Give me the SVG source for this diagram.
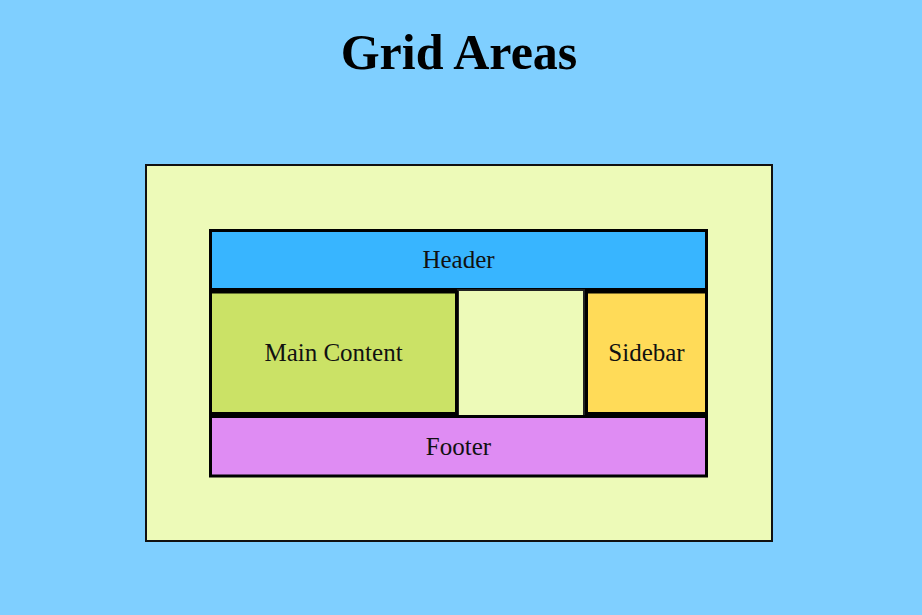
<svg xmlns="http://www.w3.org/2000/svg" width="922" height="615" viewBox="0 0 922 615">
  <style>
    .lbl { font-family: "Liberation Serif", "Times New Roman", serif; font-size: 25px; fill: #111; text-anchor: middle; }
    .title { font-family: "Liberation Serif", "Times New Roman", serif; font-size: 50px; font-weight: bold; fill: #000; text-anchor: middle; }
    .cell { stroke: #000; stroke-width: 3; }
  </style>
  <rect x="0" y="0" width="922" height="615" fill="#7fcfff"/>
  <text class="title" x="459" y="69">Grid Areas</text>
  <g id="container">
    <rect x="146" y="165" width="626" height="376" fill="#edfab8" stroke="#111" stroke-width="2"/>
  </g>
  <g id="header">
    <rect class="cell" x="210.5" y="230.5" width="496" height="59" fill="#38b5ff"/>
    <text class="lbl" x="458.5" y="268">Header</text>
  </g>
  <g id="empty">
    <rect x="458" y="290" width="126" height="126" fill="#edfab8" stroke="#222" stroke-width="2"/>
  </g>
  <g id="main">
    <rect class="cell" x="210.5" y="292" width="246" height="121.5" fill="#cbe266"/>
    <text class="lbl" x="333.5" y="361">Main Content</text>
  </g>
  <g id="sidebar">
    <rect class="cell" x="586.5" y="292" width="120" height="121.5" fill="#ffdb58"/>
    <text class="lbl" x="646.5" y="361">Sidebar</text>
  </g>
  <g id="footer">
    <rect class="cell" x="210.5" y="416.5" width="496" height="59.5" fill="#df8cf3"/>
    <text class="lbl" x="458.5" y="455">Footer</text>
  </g>
  <g id="connectors"/>
</svg>
